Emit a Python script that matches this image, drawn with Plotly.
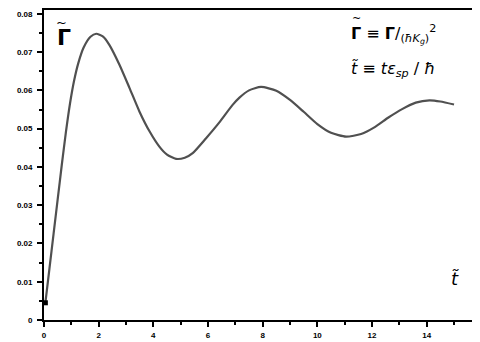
import plotly.graph_objects as go

# Data
t_vals = [0.05, 0.2, 0.35, 0.5, 0.65, 0.8, 0.95, 1.1, 1.25, 1.45, 1.7, 1.91, 2.15, 2.39, 2.76,
          3.13, 3.49, 3.86, 4.22, 4.5, 4.83, 5.15, 5.44, 5.93, 6.4, 6.9, 7.15, 7.5, 7.94, 8.5,
          9.0, 9.5, 10.0, 10.5, 11.05, 11.6, 12.1, 12.6, 13.1, 13.6, 14.1, 14.5, 15.0]
gamma_vals = [0.0045, 0.0135, 0.0225, 0.0315, 0.0405, 0.049, 0.0565, 0.0625, 0.0670, 0.0712,
              0.0740, 0.0748, 0.0741, 0.0719, 0.0667, 0.0606, 0.0545, 0.0493, 0.0453, 0.0432,
              0.0421, 0.0424, 0.0436, 0.0475, 0.0515, 0.0562, 0.0581, 0.0600, 0.0609, 0.0599,
              0.0575, 0.0544, 0.0512, 0.0489, 0.0479, 0.0486, 0.0504, 0.0529, 0.0551, 0.0568,
              0.0574, 0.0571, 0.0563]

x_ticks = [0, 2, 4, 6, 8, 10, 12, 14, 16]
x_tick_labels = ["0", "2", "4", "6", "8", "10", "12", "14", "16"]
y_ticks = [0, 0.01, 0.02, 0.03, 0.04, 0.05, 0.06, 0.07, 0.08]
y_tick_labels = ["0", "0.01", "0.02", "0.03", "0.04", "0.05", "0.06", "0.07", "0.08"]

fig = go.Figure()
fig.add_trace(go.Scatter(x=t_vals, y=gamma_vals, mode="lines",
                         line=dict(color="#505050", width=2.2, shape="spline", smoothing=0.6),
                         showlegend=False, hoverinfo="skip"))
fig.add_trace(go.Scatter(x=t_vals[:1], y=gamma_vals[:1], mode="markers",
                         marker=dict(color="black", size=5, symbol="square"),
                         showlegend=False, hoverinfo="skip"))

tickfont = dict(family="Liberation Sans", size=8, color="black", weight="bold")

fig.update_xaxes(range=[0, 15.95], tickmode="array", tickvals=x_ticks, ticktext=x_tick_labels,
                 ticks="outside", ticklen=5, tickwidth=1.5, tickcolor="black",
                 minor=dict(dtick=1, ticks="outside", ticklen=3, tickwidth=1.5, tickcolor="black"),
                 showline=True, linecolor="black", linewidth=1.8, mirror=True,
                 showgrid=False, zeroline=False, tickfont=tickfont, ticklabelstandoff=1,
                 automargin=False)
fig.update_yaxes(range=[0, 0.081], tickmode="array", tickvals=y_ticks, ticktext=y_tick_labels,
                 ticks="outside", ticklen=5, tickwidth=1.5, tickcolor="black",
                 minor=dict(dtick=0.005, ticks="outside", ticklen=3, tickwidth=1.5, tickcolor="black"),
                 showline=True, linecolor="black", linewidth=1.8, mirror=False,
                 showgrid=False, zeroline=False, tickfont=tickfont, ticklabelstandoff=3,
                 automargin=False)

# Big Γ̃ label at top left (tilde drawn as its own glyph above the bold Γ)
fig.add_annotation(xref="paper", yref="paper", x=0.025, y=0.958, xanchor="left", yanchor="top",
                   text="<b>Γ</b>", showarrow=False,
                   font=dict(family="DejaVu Sans", size=22, color="black"))
fig.add_annotation(xref="paper", yref="paper", x=0.041, y=0.99, xanchor="center", yanchor="top",
                   text="~", showarrow=False,
                   font=dict(family="DejaVu Sans", size=13, color="black"))

# Definitions at top right
fig.add_annotation(xref="paper", yref="paper", x=0.70, y=0.968, xanchor="left", yanchor="top",
                   text="<b>Γ</b> ≡ <b>Γ</b>/<sub>(<i>ħK</i><sub><i>g</i></sub>)</sub><sup>2</sup>",
                   showarrow=False, font=dict(family="DejaVu Sans", size=16, color="black"))
fig.add_annotation(xref="paper", yref="paper", x=0.716, y=1.0, xanchor="center", yanchor="top",
                   text="~", showarrow=False,
                   font=dict(family="DejaVu Sans", size=11, color="black"))
fig.add_annotation(xref="paper", yref="paper", x=0.70, y=0.85, xanchor="left", yanchor="top",
                   text="<i>t̃</i> ≡ <i>tε</i><sub><i>sp</i></sub> / <i>ħ</i>",
                   showarrow=False, font=dict(family="DejaVu Sans", size=16, color="black"))
fig.add_annotation(xref="paper", yref="paper", x=0.943, y=0.095, xanchor="center", yanchor="bottom",
                   text="<i>t̃</i>", showarrow=False,
                   font=dict(family="DejaVu Sans", size=18, color="black"))

# The page body adds an 8 px offset, so the figure is sized to fit the 480x342 window
fig.update_layout(width=472, height=334, margin=dict(l=36, r=0, t=2, b=22),
                  plot_bgcolor="white", paper_bgcolor="white")

fig.write_html("out.html")
